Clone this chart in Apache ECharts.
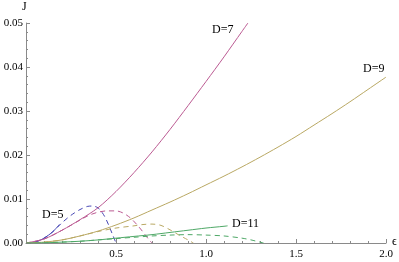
<!DOCTYPE html>
<html><head><meta charset="utf-8">
<script src="https://cdn.jsdelivr.net/npm/echarts@6/dist/echarts.min.js"></script>
<style>html,body{margin:0;padding:0;background:#fff}#c{width:399px;height:262px}</style>
</head><body><div id="c"></div>
<script>
// Tick labels
const xTicks = [0.5, 1.0, 1.5, 2.0];
const yTicks = [0.00, 0.01, 0.02, 0.03, 0.04, 0.05];

// D=5
const eps5 = [0, 0.05, 0.1, 0.15, 0.185];
const j5 = [0, 0.0002, 0.0011, 0.0026, 0.0042];
const eps5d = [0, 0.05, 0.1, 0.15, 0.2, 0.25, 0.3, 0.34, 0.37, 0.4, 0.42, 0.44, 0.46, 0.48, 0.5];
const j5d = [0, 0.0002, 0.0011, 0.0026, 0.0046, 0.0063, 0.0076, 0.0083, 0.0084, 0.0080, 0.0071, 0.0058, 0.0040, 0.0020, 0];

// D=7
const eps7 = [0, 0.1, 0.2, 0.3, 0.4, 0.5, 0.6, 0.7, 0.8, 0.9, 1.0, 1.1, 1.2, 1.233];
const j7 = [0, 0.0009, 0.0029, 0.0053, 0.0080, 0.0117, 0.0160, 0.0207, 0.0258, 0.0312, 0.0367, 0.0423, 0.0481, 0.05];
const eps7d = [0, 0.1, 0.2, 0.3, 0.35, 0.4, 0.45, 0.5, 0.54, 0.58, 0.62, 0.65, 0.68, 0.7];
const j7d = [0, 0.0009, 0.0029, 0.0052, 0.0063, 0.0070, 0.0073, 0.0073, 0.0068, 0.0057, 0.0040, 0.0025, 0.0009, 0];

// D=9
const eps9 = [0, 0.1, 0.2, 0.3, 0.4, 0.5, 0.6, 0.7, 0.8, 0.9, 1.0, 1.1, 1.2, 1.3, 1.4, 1.5, 1.6, 1.7, 1.8, 1.9, 2.0];
const j9 = [0, 0.0002, 0.0007, 0.0016, 0.0027, 0.0041, 0.0057, 0.0075, 0.0093, 0.0112, 0.0132, 0.0152, 0.0173, 0.0195, 0.0218, 0.0242, 0.0268, 0.0294, 0.0321, 0.0349, 0.0377];
const eps9d = [0, 0.1, 0.2, 0.3, 0.4, 0.5, 0.6, 0.65, 0.7, 0.75, 0.8, 0.85, 0.9, 0.93];
const j9d = [0, 0.0002, 0.0007, 0.0016, 0.0026, 0.0034, 0.0039, 0.0042, 0.0043, 0.0040, 0.0030, 0.0018, 0.0007, 0];

// D=11
const eps11 = [0, 0.1, 0.2, 0.3, 0.4, 0.5, 0.6, 0.7, 0.8, 0.9, 1.0, 1.1, 1.12];
const j11 = [0, 0.00005, 0.0002, 0.0004, 0.0007, 0.0011, 0.0015, 0.0019, 0.0024, 0.0029, 0.0034, 0.0038, 0.0039];
const eps11d = [0, 0.1, 0.2, 0.3, 0.4, 0.5, 0.6, 0.7, 0.8, 0.9, 1.0, 1.1, 1.2, 1.25, 1.3, 1.32];
const j11d = [0, 0.00005, 0.0002, 0.0004, 0.0007, 0.0010, 0.0013, 0.0016, 0.0018, 0.0019, 0.0018, 0.0016, 0.0011, 0.0007, 0.0002, 0];

const zip = (a, b) => a.map((v, i) => [v, b[i]]);
const C5 = '#4646b4', C7 = '#bb5a92', C9 = '#b9a863', C11 = '#4fa867';
const font = '"Liberation Serif", "DejaVu Serif", serif';

function line(x, y, color, dashed) {
  return {
    type: 'line', data: zip(x, y), smooth: 0.3, showSymbol: false, silent: true,
    lineStyle: { color: color, width: 1, type: dashed ? [5, 4] : 'solid' },
    z: dashed ? 2 : 3
  };
}

const chart = echarts.init(document.getElementById('c'), null, { renderer: 'canvas' });
chart.setOption({
  animation: false,
  grid: { left: 26, right: 13, top: 23, bottom: 19 },
  xAxis: {
    type: 'value', min: 0, max: 2, interval: 0.5,
    axisLine: { lineStyle: { color: '#8a8a8a', width: 1 } },
    axisTick: { inside: true, length: 4, lineStyle: { color: '#8a8a8a' } },
    minorTick: { show: true, splitNumber: 5, length: 2, lineStyle: { color: '#8a8a8a' } },
    splitLine: { show: false },
    axisLabel: {
      color: '#000', fontFamily: font, fontSize: 11, margin: 6,
      formatter: v => (xTicks.some(t => Math.abs(t - v) < 1e-9) ? v.toFixed(1) : '')
    }
  },
  yAxis: {
    type: 'value', min: 0, max: 0.05, interval: 0.01,
    axisLine: { show: true, lineStyle: { color: '#8a8a8a', width: 1 } },
    axisTick: { show: true, inside: true, length: 4, lineStyle: { color: '#8a8a8a' } },
    minorTick: { show: true, splitNumber: 5, length: 2, lineStyle: { color: '#8a8a8a' } },
    splitLine: { show: false },
    axisLabel: {
      color: '#000', fontFamily: font, fontSize: 11, margin: 3,
      formatter: v => (yTicks.some(t => Math.abs(t - v) < 1e-9) ? v.toFixed(2) : '')
    }
  },
  series: [
    line(eps5d, j5d, C5, true),
    line(eps7d, j7d, C7, true),
    line(eps9d, j9d, C9, true),
    line(eps11d, j11d, C11, true),
    line(eps5, j5, C5, false),
    line(eps7, j7, C7, false),
    line(eps9, j9, C9, false),
    line(eps11, j11, C11, false)
  ],
  graphic: [
    { type: 'text', left: 22, top: 1, style: { text: 'J', font: '12px ' + font, fill: '#000' } },
    { type: 'text', left: 392, top: 236, style: { text: 'ϵ', font: '12px ' + font, fill: '#000' } },
    { type: 'text', left: 42, top: 209, style: { text: 'D=5', font: '12px ' + font, fill: '#000' } },
    { type: 'text', left: 212, top: 24, style: { text: 'D=7', font: '12px ' + font, fill: '#000' } },
    { type: 'text', left: 363, top: 63, style: { text: 'D=9', font: '12px ' + font, fill: '#000' } },
    { type: 'text', left: 232, top: 218, style: { text: 'D=11', font: '12px ' + font, fill: '#000' } }
  ]
});
</script></body></html>
